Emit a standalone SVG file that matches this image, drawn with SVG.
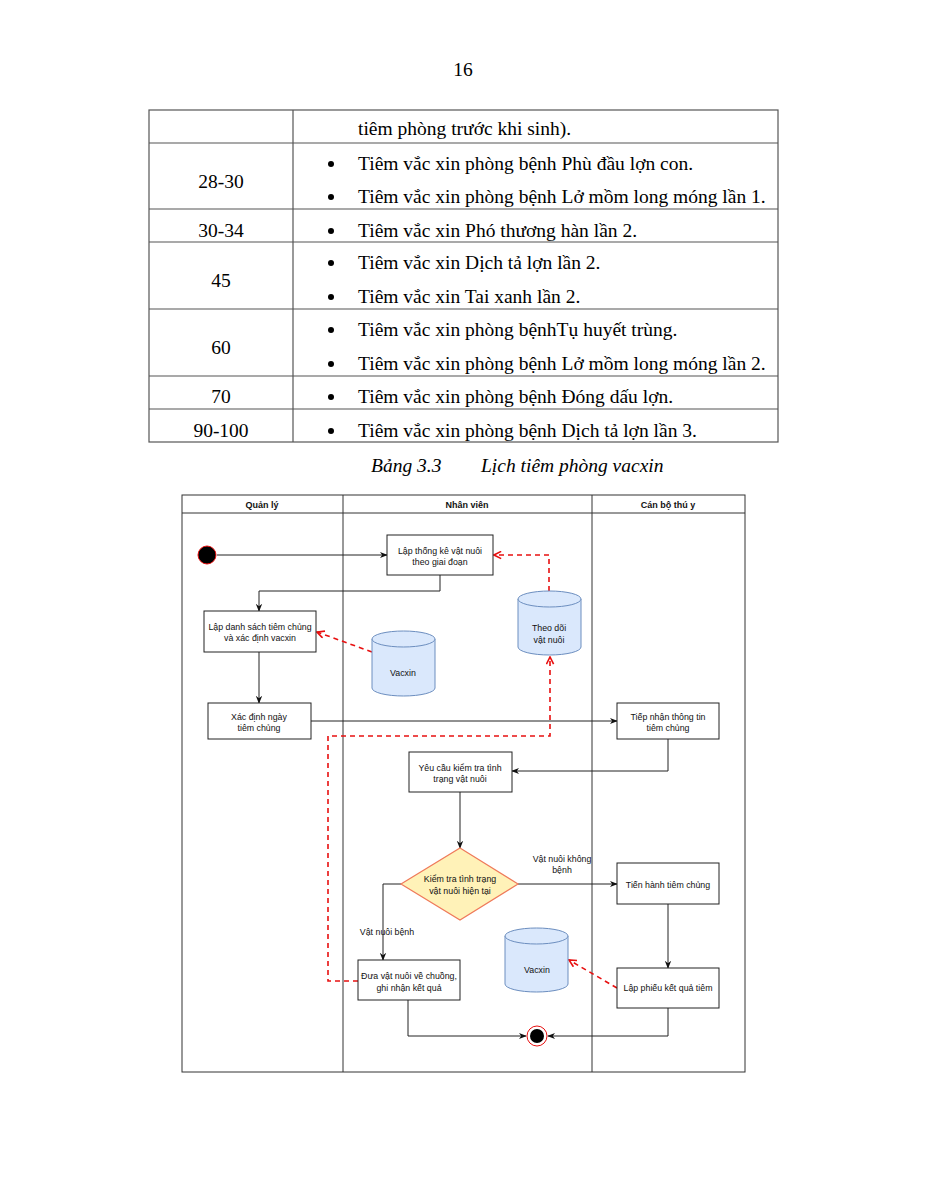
<svg xmlns="http://www.w3.org/2000/svg" width="927" height="1200" viewBox="0 0 927 1200">
<defs>
<style>
.t{font-family:"Liberation Serif","Times New Roman",serif;font-size:19.5px;fill:#000}
.ti{font-family:"Liberation Serif","Times New Roman",serif;font-size:19.5px;font-style:italic;fill:#000}
.tl{stroke:#555;stroke-width:1.2;fill:none}
.b{fill:#000}
.d{font-family:"Liberation Sans",Arial,sans-serif;font-size:8.8px;fill:#111;text-anchor:middle}
.h{font-family:"Liberation Sans",Arial,sans-serif;font-size:9px;font-weight:bold;fill:#111;text-anchor:middle}
.box{fill:#fff;stroke:#222;stroke-width:1}
.cyl{fill:#dae8fc;stroke:#6c8ebf;stroke-width:1}
.ln{fill:none;stroke:#222;stroke-width:1}
.rd{fill:none;stroke:#e81010;stroke-width:1.6;stroke-dasharray:5,4}
.lane{fill:none;stroke:#333;stroke-width:1}
</style>
<marker id="ah" viewBox="0 0 10 10" refX="9" refY="5" markerWidth="8" markerHeight="8" markerUnits="userSpaceOnUse" orient="auto">
<path d="M0,1 L10,5 L0,9 L3,5 z" fill="#111"/>
</marker>
<marker id="ar" viewBox="0 0 10 10" refX="9" refY="5" markerWidth="9" markerHeight="9" markerUnits="userSpaceOnUse" orient="auto">
<path d="M1,1 L9,5 L1,9" fill="none" stroke="#e81010" stroke-width="1.8"/>
</marker>
</defs>
<rect width="927" height="1200" fill="#fff"/>

<text class="t" x="463" y="76" text-anchor="middle">16</text>

<g id="table">
<rect class="tl" x="149" y="110" width="629" height="332"/>
<line class="tl" x1="293" y1="110" x2="293" y2="442"/>
<line class="tl" x1="149" y1="143" x2="778" y2="143"/>
<line class="tl" x1="149" y1="209" x2="778" y2="209"/>
<line class="tl" x1="149" y1="242" x2="778" y2="242"/>
<line class="tl" x1="149" y1="309" x2="778" y2="309"/>
<line class="tl" x1="149" y1="376" x2="778" y2="376"/>
<line class="tl" x1="149" y1="409" x2="778" y2="409"/>
<text class="t" x="358" y="135">tiêm phòng trước khi sinh).</text>
<text class="t" x="221" y="188" text-anchor="middle">28-30</text>
<circle class="b" cx="331" cy="164" r="3"/><text class="t" x="358" y="170">Tiêm vắc xin phòng bệnh Phù đầu lợn con.</text>
<circle class="b" cx="331" cy="197" r="3"/><text class="t" x="358" y="203">Tiêm vắc xin phòng bệnh Lở mồm long móng lần 1.</text>
<text class="t" x="221" y="237" text-anchor="middle">30-34</text>
<circle class="b" cx="331" cy="231" r="3"/><text class="t" x="358" y="237">Tiêm vắc xin Phó thương hàn lần 2.</text>
<text class="t" x="221" y="287" text-anchor="middle">45</text>
<circle class="b" cx="331" cy="263" r="3"/><text class="t" x="358" y="269">Tiêm vắc xin Dịch tả lợn lần 2.</text>
<circle class="b" cx="331" cy="297" r="3"/><text class="t" x="358" y="303">Tiêm vắc xin Tai xanh lần 2.</text>
<text class="t" x="221" y="354" text-anchor="middle">60</text>
<circle class="b" cx="331" cy="330" r="3"/><text class="t" x="358" y="336">Tiêm vắc xin phòng bệnhTụ huyết trùng.</text>
<circle class="b" cx="331" cy="364" r="3"/><text class="t" x="358" y="370">Tiêm vắc xin phòng bệnh Lở mồm long móng lần 2.</text>
<text class="t" x="221" y="403" text-anchor="middle">70</text>
<circle class="b" cx="331" cy="397" r="3"/><text class="t" x="358" y="403">Tiêm vắc xin phòng bệnh Đóng dấu lợn.</text>
<text class="t" x="221" y="437" text-anchor="middle">90-100</text>
<circle class="b" cx="331" cy="431" r="3"/><text class="t" x="358" y="437">Tiêm vắc xin phòng bệnh Dịch tả lợn lần 3.</text>
</g>
<text class="ti" x="371" y="472">Bảng 3.3</text>
<text class="ti" x="481" y="472">Lịch tiêm phòng vacxin</text>

<g id="lanes">
<rect class="lane" x="182" y="495" width="563" height="577"/>
<line class="lane" x1="182" y1="513" x2="745" y2="513"/>
<line class="lane" x1="343" y1="495" x2="343" y2="1072"/>
<line class="lane" x1="592" y1="495" x2="592" y2="1072"/>
<text class="h" x="262" y="508">Quản lý</text>
<text class="h" x="467" y="508">Nhân viên</text>
<text class="h" x="668" y="508">Cán bộ thú y</text>
</g>

<g id="connectors">
<line class="ln" x1="217" y1="555" x2="387" y2="555" marker-end="url(#ah)"/>
<polyline class="ln" points="440,575 440,591 259,591 259,611" marker-end="url(#ah)"/>
<line class="ln" x1="259" y1="652" x2="259" y2="703" marker-end="url(#ah)"/>
<line class="ln" x1="311" y1="721" x2="617" y2="721" marker-end="url(#ah)"/>
<polyline class="ln" points="668,739 668,771 512,771" marker-end="url(#ah)"/>
<line class="ln" x1="460" y1="792" x2="460" y2="848" marker-end="url(#ah)"/>
<line class="ln" x1="518" y1="884" x2="617" y2="884" marker-end="url(#ah)"/>
<polyline class="ln" points="401,884 383,884 383,960" marker-end="url(#ah)"/>
<line class="ln" x1="668" y1="904" x2="668" y2="968" marker-end="url(#ah)"/>
<polyline class="ln" points="408,1000 408,1036 526,1036" marker-end="url(#ah)"/>
<polyline class="ln" points="668,1008 668,1036 548,1036" marker-end="url(#ah)"/>
<polyline class="rd" points="549,591 549,555 494,555" marker-end="url(#ar)"/>
<line class="rd" x1="372" y1="652" x2="317" y2="632" marker-end="url(#ar)"/>
<polyline class="rd" points="358,981 328,981 328,736 550,736 550,657" marker-end="url(#ar)"/>
<line class="rd" x1="617" y1="988" x2="569" y2="960" marker-end="url(#ar)"/>
<text class="d" x="562" y="862">Vật nuôi không</text>
<text class="d" x="562" y="873">bệnh</text>
<text class="d" x="387" y="935">Vật nuôi bệnh</text>
</g>

<g id="start"><circle cx="207" cy="555" r="9" fill="#000" stroke="#e81010" stroke-width="1"/></g>

<g id="lap-thong-ke">
<rect class="box" x="387" y="535" width="106" height="40"/>
<text class="d" x="440" y="554">Lập thống kê vật nuôi</text>
<text class="d" x="440" y="565">theo giai đoạn</text>
</g>

<g id="lap-danh-sach">
<rect class="box" x="204" y="611" width="112" height="41"/>
<text class="d" x="260" y="630">Lập danh sách tiêm chủng</text>
<text class="d" x="260" y="641">và xác định vacxin</text>
</g>

<g id="vacxin1">
<path class="cyl" d="M372,639 a31.5,8 0 0 1 63,0 v49 a31.5,8 0 0 1 -63,0 z"/>
<path class="cyl" d="M372,639 a31.5,8 0 0 0 63,0" fill="none"/>
<text class="d" x="403" y="676">Vacxin</text>
</g>

<g id="theo-doi">
<path class="cyl" d="M518,599 a31.5,8 0 0 1 63,0 v48 a31.5,8 0 0 1 -63,0 z"/>
<path class="cyl" d="M518,599 a31.5,8 0 0 0 63,0" fill="none"/>
<text class="d" x="549" y="631">Theo dõi</text>
<text class="d" x="549" y="643">vật nuôi</text>
</g>

<g id="xac-dinh-ngay">
<rect class="box" x="208" y="703" width="103" height="36"/>
<text class="d" x="259" y="720">Xác định ngày</text>
<text class="d" x="259" y="731">tiêm chủng</text>
</g>

<g id="tiep-nhan">
<rect class="box" x="617" y="703" width="102" height="36"/>
<text class="d" x="668" y="720">Tiếp nhận thông tin</text>
<text class="d" x="668" y="731">tiêm chủng</text>
</g>

<g id="yeu-cau">
<rect class="box" x="409" y="752" width="103" height="40"/>
<text class="d" x="460" y="771">Yêu cầu kiểm tra tình</text>
<text class="d" x="460" y="782">trạng vật nuôi</text>
</g>

<g id="kiem-tra">
<path d="M460,848 L518,884 L460,920 L401,884 z" fill="#fff2b8" stroke="#ef7a5a" stroke-width="1.2"/>
<text class="d" x="460" y="882">Kiểm tra tình trạng</text>
<text class="d" x="460" y="894">vật nuôi hiện tại</text>
</g>

<g id="tien-hanh">
<rect class="box" x="617" y="863" width="102" height="41"/>
<text class="d" x="668" y="888">Tiến hành tiêm chủng</text>
</g>

<g id="vacxin2">
<path class="cyl" d="M505,936 a31.5,8 0 0 1 63,0 v48 a31.5,8 0 0 1 -63,0 z"/>
<path class="cyl" d="M505,936 a31.5,8 0 0 0 63,0" fill="none"/>
<text class="d" x="537" y="973">Vacxin</text>
</g>

<g id="lap-phieu">
<rect class="box" x="617" y="968" width="102" height="40"/>
<text class="d" x="668" y="991">Lập phiếu kết quả tiêm</text>
</g>

<g id="dua-vat-nuoi">
<rect class="box" x="358" y="960" width="102" height="40"/>
<text class="d" x="409" y="979">Đưa vật nuôi về chuồng,</text>
<text class="d" x="409" y="991">ghi nhận kết quả</text>
</g>

<g id="end">
<circle cx="537" cy="1036" r="10" fill="#fff" stroke="#e81010" stroke-width="1"/>
<circle cx="537" cy="1036" r="7" fill="#000"/>
</g>
</svg>
